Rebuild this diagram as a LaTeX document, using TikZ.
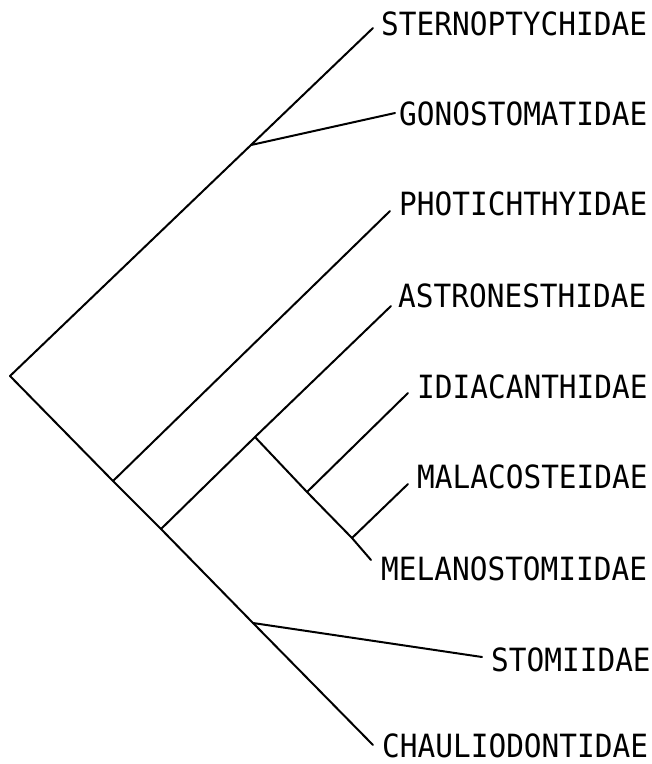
\documentclass[tikz,border=0pt]{standalone}
\usepackage{fontspec}
\newfontfamily\plotfont[FakeStretch=0.92]{DejaVu Sans Mono}
\begin{document}
\begin{tikzpicture}[x=1pt,y=-1pt,
  branch/.style={line width=2pt,line cap=round,line join=round},
  taxon/.style={font=\plotfont\fontsize{32}{32}\selectfont,anchor=base west,inner sep=0pt}]
\useasboundingbox (0,0) rectangle (652,764);
% internal nodes
\coordinate (root) at (10,376);
\coordinate (gon) at (251,145);
\coordinate (pho) at (113,481);
\coordinate (ast) at (161,529);
\coordinate (mel) at (255,437);
\coordinate (idi) at (307,492);
\coordinate (mal) at (352,538);
\coordinate (sto) at (253,623);
% tips
\coordinate (tSte) at (373,28);
\coordinate (tGon) at (395,113);
\coordinate (tPho) at (390,211);
\coordinate (tAst) at (391,306);
\coordinate (tIdi) at (408,393);
\coordinate (tMal) at (408,484);
\coordinate (tMel) at (371,560);
\coordinate (tSto) at (482,657);
\coordinate (tCha) at (373,745);
% labels
\node[taxon] (lSte) at (381,35) {STERNOPTYCHIDAE};
\node[taxon] (lGon) at (399,125) {GONOSTOMATIDAE};
\node[taxon] (lPho) at (399,215) {PHOTICHTHYIDAE};
\node[taxon] (lAst) at (398,307) {ASTRONESTHIDAE};
\node[taxon] (lIdi) at (417,398) {IDIACANTHIDAE};
\node[taxon] (lMal) at (417,488) {MALACOSTEIDAE};
\node[taxon] (lMel) at (381,580) {MELANOSTOMIIDAE};
\node[taxon] (lSto) at (491,671) {STOMIIDAE};
\node[taxon] (lCha) at (382,757) {CHAULIODONTIDAE};
% branches
\draw[branch] (tSte) -- (gon) -- (root) -- (pho) -- (ast) -- (sto) -- (tCha);
\draw[branch] (gon) -- (tGon);
\draw[branch] (pho) -- (tPho);
\draw[branch] (ast) -- (mel) -- (tAst);
\draw[branch] (mel) -- (idi) -- (mal) -- (tMel);
\draw[branch] (idi) -- (tIdi);
\draw[branch] (mal) -- (tMal);
\draw[branch] (sto) -- (tSto);
\end{tikzpicture}
\end{document}
